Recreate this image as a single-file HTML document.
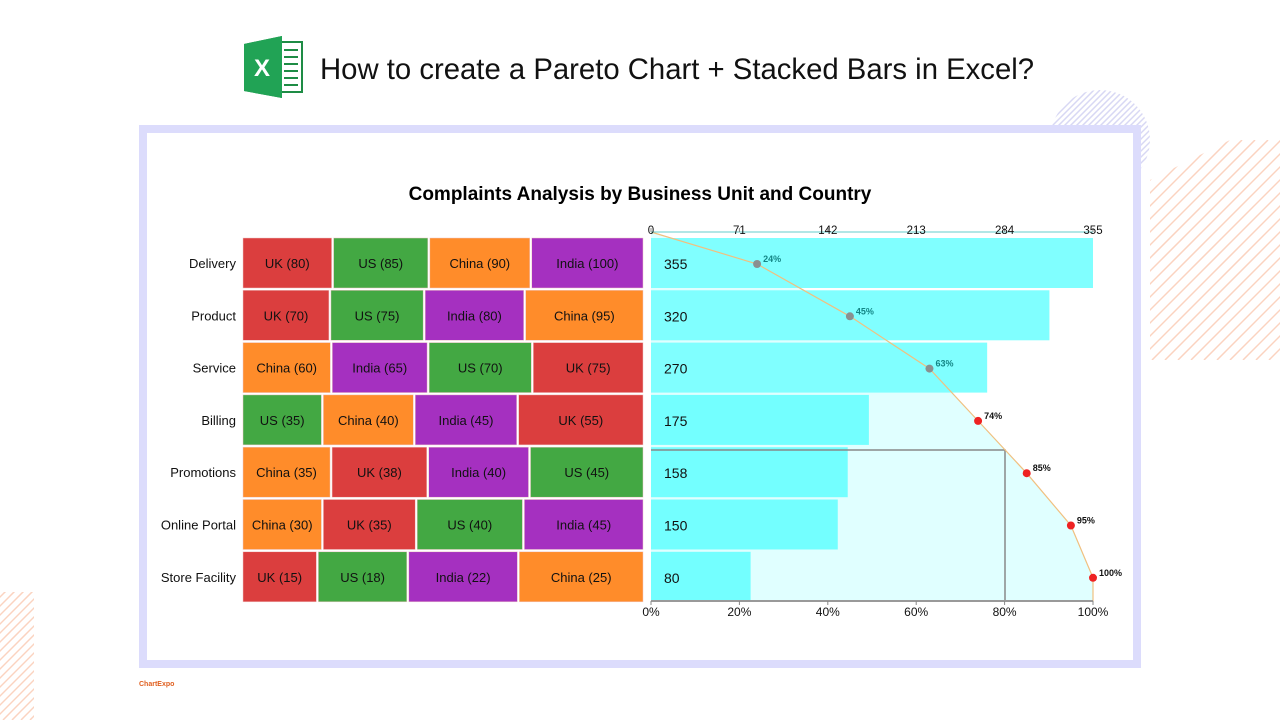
<!DOCTYPE html>
<html><head><meta charset="utf-8"><style>
html,body{margin:0;padding:0;background:#fff;width:1280px;height:720px;overflow:hidden;font-family:"Liberation Sans",Arial,sans-serif}
</style></head><body>
<svg id="s" width="1280" height="720" xmlns="http://www.w3.org/2000/svg" font-family="Liberation Sans, Arial, sans-serif">
<defs>
<clipPath id="c1"><circle cx="1100" cy="140" r="50"/></clipPath>
<clipPath id="c2"><polygon points="1280,140 1280,360 1150,360 1150,180 1230,140"/></clipPath>
<clipPath id="c3"><rect x="0" y="592" width="34" height="128"/></clipPath>
</defs>
<g id="deco"></g>
<rect x="143" y="129" width="994" height="535" fill="#fff" stroke="#dcdcfc" stroke-width="8"/>
<path d="M244 44 L282 36 L282 98 L244 91 Z" fill="#1e8c45"/>
<rect x="272" y="42" width="30" height="50" fill="#fff" stroke="#1e8c45" stroke-width="2"/>
<g stroke="#1e8c45" stroke-width="2"><line x1="284" y1="50" x2="298" y2="50"/><line x1="284" y1="57" x2="298" y2="57"/><line x1="284" y1="64" x2="298" y2="64"/><line x1="284" y1="71" x2="298" y2="71"/><line x1="284" y1="78" x2="298" y2="78"/><line x1="284" y1="85" x2="298" y2="85"/></g>
<path d="M244 44 L282 36 L282 98 L244 91 Z" fill="#21a355"/>
<text x="262" y="76" font-size="24" font-weight="bold" fill="#fff" text-anchor="middle">X</text>
<text x="320" y="79" font-size="29.3" fill="#111">How to create a Pareto Chart + Stacked Bars in Excel?</text>
<text x="640" y="200" font-size="19" font-weight="bold" text-anchor="middle" fill="#000">Complaints Analysis by Business Unit and Country</text>
<text x="139" y="686" font-size="7" font-weight="bold" fill="#e06020">ChartExpo</text>
<g id="chart"></g>
</svg>
<script>
var NS="http://www.w3.org/2000/svg";
function el(p,t,a,txt){var e=document.createElementNS(NS,t);for(var k in a)e.setAttribute(k,a[k]);if(txt!=null)e.textContent=txt;p.appendChild(e);return e;}
var d=document.getElementById('deco');
var g1=el(d,'g',{'clip-path':'url(#c1)',stroke:'#d8d8f4','stroke-width':1.5});
for(var i=-200;i<200;i+=6)el(g1,'line',{x1:1050+i,y1:190,x2:1150+i,y2:90});
var g2=el(d,'g',{'clip-path':'url(#c2)',stroke:'#fbd3c0','stroke-width':1.5});
for(var i=-300;i<300;i+=13)el(g2,'line',{x1:1140+i,y1:360,x2:1360+i,y2:140});
var g3=el(d,'g',{'clip-path':'url(#c3)',stroke:'#fbd3c0','stroke-width':1.5});
for(var i=-150;i<150;i+=9)el(g3,'line',{x1:0+i,y1:720,x2:130+i,y2:590});
var c=document.getElementById('chart');
var C={UK:'#db3e3e',US:'#43a843',China:'#ff8c2a',India:'#a530c0'};
var rows=[["Delivery",[["UK",80],["US",85],["China",90],["India",100]]],
["Product",[["UK",70],["US",75],["India",80],["China",95]]],
["Service",[["China",60],["India",65],["US",70],["UK",75]]],
["Billing",[["US",35],["China",40],["India",45],["UK",55]]],
["Promotions",[["China",35],["UK",38],["India",40],["US",45]]],
["Online Portal",[["China",30],["UK",35],["US",40],["India",45]]],
["Store Facility",[["UK",15],["US",18],["India",22],["China",25]]]];
var y0=238,pitch=52.3,h=50,X0=651,X1=1093,sc=(X1-X0)/355;
var cum=[24,45,63,74,85,95,100],pts=[[X0,232]];
for(var i=0;i<7;i++)pts.push([X0+cum[i]/100*(X1-X0),y0+i*pitch+h/2+1]);
pts.push([X1,601]);
el(c,'polygon',{points:pts.map(p=>p.join(',')).join(' ')+' '+X0+',601',fill:'#e0ffff'});
rows.forEach(function(r,i){
 var y=y0+i*pitch,tot=r[1].reduce((a,b)=>a+b[1],0),x=242,W=402;
 el(c,'text',{x:236,y:y+h/2+5,'font-size':13,'text-anchor':'end',fill:'#111'},r[0]);
 r[1].forEach(function(s){var w=s[1]/tot*W;
  el(c,'rect',{x:x+1,y:y,width:w-2,height:h,fill:C[s[0]],stroke:'#f0c8c8','stroke-width':0.5});
  el(c,'text',{x:x+w/2,y:y+h/2+5,'font-size':13,'text-anchor':'middle',fill:'#111'},s[0]+' ('+s[1]+')');
  x+=w;});
 el(c,'rect',{x:X0,y:y,width:tot*sc,height:h,fill:i<3?'#80ffff':'#73ffff'});
 el(c,'text',{x:664,y:y+h/2+6,'font-size':14,fill:'#111'},tot);
});
el(c,'polyline',{points:'651,450 1005,450 1005,601',fill:'none',stroke:'#888','stroke-width':1.5});
el(c,'polyline',{points:pts.map(p=>p.join(',')).join(' '),fill:'none',stroke:'#f0c080','stroke-width':1.2});
for(var i=0;i<7;i++){var p=pts[i+1];
 el(c,'circle',{cx:p[0],cy:p[1],r:4,fill:i<3?'#8a9090':'#ee2222'});
 el(c,'text',{x:p[0]+6,y:p[1]-2,'font-size':9,'font-weight':'bold',fill:i<3?'#138585':'#111'},cum[i]+'%');}
el(c,'line',{x1:X0,y1:232,x2:X1,y2:232,stroke:'#6cc','stroke-width':1});
el(c,'line',{x1:X0,y1:601,x2:X1,y2:601,stroke:'#999','stroke-width':2});
[0,71,142,213,284,355].forEach(function(v){var x=X0+v*sc;
 el(c,'line',{x1:x,y1:228,x2:x,y2:232,stroke:'#888'});
 el(c,'text',{x:x,y:234,'font-size':11.5,'text-anchor':'middle',fill:'#111'},v);});
[0,20,40,60,80,100].forEach(function(v){var x=X0+v/100*(X1-X0);
 el(c,'line',{x1:x,y1:601,x2:x,y2:605,stroke:'#888'});
 el(c,'text',{x:x,y:616,'font-size':12,'text-anchor':'middle',fill:'#111'},v+'%');});
</script>
</body></html>
